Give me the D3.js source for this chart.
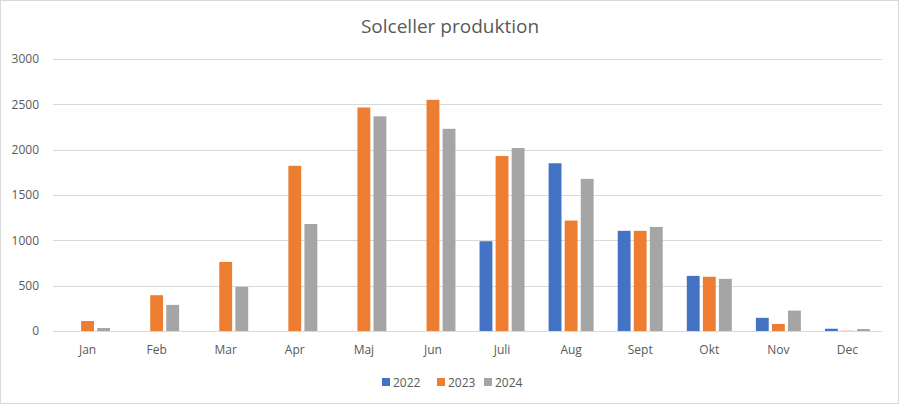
<!DOCTYPE html>
<html>
<head>
<meta charset="utf-8">
<script src="https://cdn.jsdelivr.net/npm/d3@7"></script>
<style>
  body { margin: 0; background: #fff; }
  svg { display: block; font-family: "Open Sans", "Liberation Sans", sans-serif; }
</style>
</head>
<body>
<div id="chart"></div>
<script>
// Monthly production per year
const months = ['Jan', 'Feb', 'Mar', 'Apr', 'Maj', 'Jun', 'Juli', 'Aug', 'Sept', 'Okt', 'Nov', 'Dec'];
const years = ['2022', '2023', '2024'];
const v2022 = [0, 0, 0, 0, 0, 0, 990, 1850, 1105, 608, 145, 25];
const v2023 = [110, 395, 762, 1822, 2465, 2550, 1930, 1218, 1105, 598, 78, 3];
const v2024 = [33, 288, 487, 1180, 2368, 2230, 2018, 1678, 1148, 575, 225, 22];
const yTicks = [0, 500, 1000, 1500, 2000, 2500, 3000];
const colors = ['#4472c4', '#ed7d31', '#a5a5a5'];

const series = [v2022, v2023, v2024];
const width = 900, height = 405;
const margin = { top: 59, right: 18, bottom: 74, left: 53 };
const chartWidth = width - margin.left - margin.right;
const chartHeight = height - margin.top - margin.bottom;

const svg = d3.select('#chart')
  .append('svg')
  .attr('width', width)
  .attr('height', height);

// chart border
svg.append('rect')
  .attr('x', 0.5).attr('y', 0.5)
  .attr('width', 898).attr('height', 403)
  .attr('fill', '#fff')
  .attr('stroke', '#d9d9d9');

svg.append('text')
  .attr('x', width / 2)
  .attr('y', 33)
  .attr('text-anchor', 'middle')
  .style('font-size', '19px')
  .style('fill', '#595959')
  .text('Solceller produktion');

const g = svg.append('g')
  .attr('transform', `translate(${margin.left},${margin.top})`);

const x = d3.scaleBand()
  .domain(months)
  .range([0, chartWidth]);

const x1 = d3.scaleBand()
  .domain(years)
  .range([0, 45])
  .paddingInner(0.2);

const y = d3.scaleLinear()
  .domain([0, 3000])
  .range([chartHeight, 0]);

// gridlines
g.append('g')
  .selectAll('line')
  .data(yTicks)
  .enter()
  .append('line')
  .attr('x1', 0)
  .attr('x2', chartWidth)
  .attr('y1', d => Math.round(y(d)) + 0.5)
  .attr('y2', d => Math.round(y(d)) + 0.5)
  .attr('stroke', '#d9d9d9')
  .attr('stroke-width', 1);

// Y axis labels
const yAxis = g.append('g')
  .call(d3.axisLeft(y).tickValues(yTicks).tickFormat(d3.format('d')).tickSize(0).tickPadding(14));
yAxis.select('.domain').remove();
yAxis.selectAll('text')
  .style('fill', '#595959')
  .style('font-size', '12px')
  .style('font-family', '"Open Sans", "Liberation Sans", sans-serif');

// X axis labels
const xAxis = g.append('g')
  .attr('transform', `translate(0,${chartHeight})`)
  .call(d3.axisBottom(x).tickSize(0).tickPadding(14));
xAxis.select('.domain').remove();
xAxis.selectAll('text')
  .style('fill', '#595959')
  .style('font-size', '12px')
  .style('font-family', '"Open Sans", "Liberation Sans", sans-serif');

// Bars
const groups = g.selectAll('.month')
  .data(months)
  .enter()
  .append('g')
  .attr('class', 'month')
  .attr('transform', d => `translate(${x(d) + x.bandwidth() / 2 - 22.5},0)`);

groups.selectAll('rect')
  .data((m, i) => years.map((yr, k) => ({ yr, k, v: series[k][i] })))
  .enter()
  .append('rect')
  .attr('x', d => x1(d.yr))
  .attr('width', x1.bandwidth())
  .attr('y', d => y(d.v))
  .attr('height', d => chartHeight - y(d.v))
  .attr('fill', d => colors[d.k]);

// Legend
const legend = svg.append('g')
  .attr('transform', 'translate(382,382)');
const legendX = [0, 55, 102];
years.forEach((yr, k) => {
  const item = legend.append('g').attr('transform', `translate(${legendX[k]},0)`);
  item.append('rect')
    .attr('x', 0).attr('y', -4)
    .attr('width', 8).attr('height', 8)
    .attr('fill', colors[k]);
  item.append('text')
    .attr('x', 11)
    .attr('y', 4.5)
    .style('font-size', '12px')
    .style('fill', '#595959')
    .text(yr);
});
</script>
</body>
</html>
